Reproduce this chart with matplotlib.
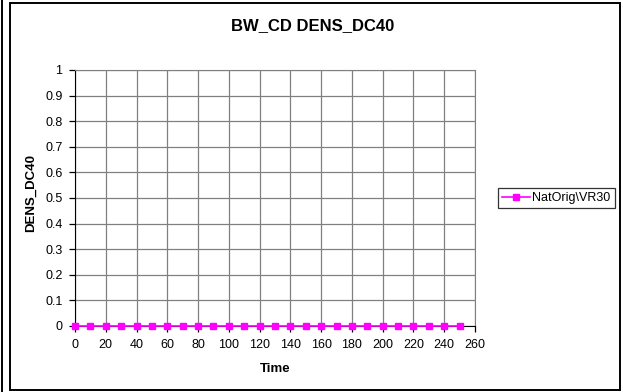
# -*- coding: utf-8 -*-
"""BW_CD DENS_DC40 time series, Excel-style line chart."""
import matplotlib
matplotlib.use("Agg")
import matplotlib.pyplot as plt
from matplotlib.patches import Rectangle
from matplotlib.lines import Line2D

plt.rcParams["font.family"] = ["Liberation Sans", "DejaVu Sans"]

time = [0, 10, 20, 30, 40, 50, 60, 70, 80, 90, 100, 110, 120, 130, 140,
        150, 160, 170, 180, 190, 200, 210, 220, 230, 240, 250]
dens = [0.0] * 26
series_name = "NatOrig\\VR30"
xticks = list(range(0, 261, 20))
yticks = [0, 0.1, 0.2, 0.3, 0.4, 0.5, 0.6, 0.7, 0.8, 0.9, 1]
ytick_labels = ["0", "0.1", "0.2", "0.3", "0.4", "0.5", "0.6", "0.7",
                "0.8", "0.9", "1"]

W, H = 623, 392
fig = plt.figure(figsize=(W / 100, H / 100), dpi=100)

# chart-area borders (pixel coords -> figure fraction)
def px(x0, y0, x1, y1):
    return (x0 / W, 1 - y1 / H, (x1 - x0) / W, (y1 - y0) / H)

l, b, w, h = px(10, 3, 620, 390)
fig.patches.append(Rectangle((l, b), w, h, transform=fig.transFigure,
                             fill=False, ec="black", lw=1.4))
fig.lines.append(Line2D([1.5 / W, 1.5 / W], [0, 1], transform=fig.transFigure,
                        color="black", lw=1.4))

ax = fig.add_axes(px(75, 70, 475, 326))
ax.plot(time, dens, color="#ff00ff", lw=1.2, marker="s", ms=4,
        mec="#ff00ff", mfc="#ff00ff", label=series_name, clip_on=False,
        zorder=5)
ax.set_xlim(0, 260)
ax.set_ylim(0, 1)
ax.set_xticks(xticks)
ax.set_yticks(yticks)
ax.set_yticklabels(ytick_labels)
ax.grid(True, color="#808080", lw=0.9)
ax.set_axisbelow(True)
for s in ("top", "right"):
    ax.spines[s].set_color("#808080")
for s in ("left", "bottom"):
    ax.spines[s].set_color("black")
ax.tick_params(labelsize=9, length=4, width=0.9, pad=5)
ax.set_xlabel("Time", fontsize=9.5, fontweight="bold", labelpad=9)
ax.set_ylabel("DENS_DC40", fontsize=9.5, fontweight="bold")
# label's right edge sits near x = 37 px
ax.yaxis.set_label_coords((37 - 75) / 400, 0.52)
fig.text(313 / W, 1 - 26 / H, "BW_CD DENS_DC40", ha="center", va="center",
         fontsize=12, fontweight="bold")

leg = ax.legend(loc="center left", bbox_to_anchor=(498 / W, 1 - 198 / H),
                bbox_transform=fig.transFigure, fontsize=9, frameon=True,
                fancybox=False, edgecolor="black", handlelength=2.2,
                borderpad=0.35, handletextpad=0.2, borderaxespad=0)
leg.get_frame().set_linewidth(0.9)

fig.savefig("out.png", dpi=100)
